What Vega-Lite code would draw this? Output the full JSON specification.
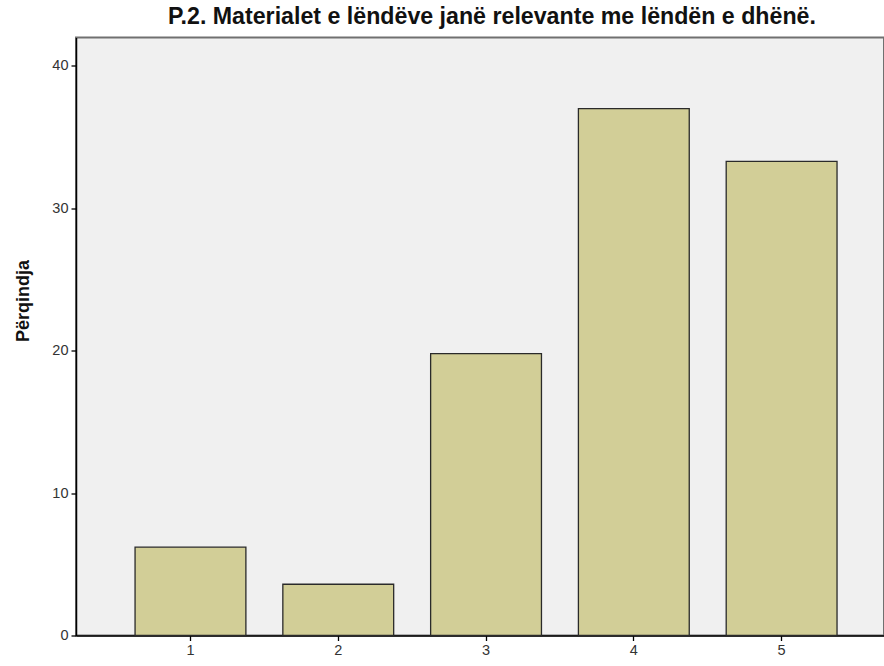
{
  "$schema": "https://vega.github.io/schema/vega-lite/v6.json",
  "width": 808,
  "height": 598,
  "autosize": {"type": "none"},
  "padding": {"left": 76, "top": 37.5, "right": 0, "bottom": 30.5},
  "background": "white",
  "title": {
    "text": "P.2. Materialet e lëndëve janë relevante me lëndën e dhënë.",
    "font": "Liberation Sans",
    "fontSize": 23.2,
    "fontWeight": "bold",
    "color": "#111111",
    "anchor": "middle",
    "dx": 12,
    "offset": 8
  },
  "config": {
    "view": {"fill": "#F0F0F0", "stroke": "#707070", "strokeWidth": 2}
  },
  "data": {
    "values": [
      {"kategoria": "1", "perqindja": 6.2},
      {"kategoria": "2", "perqindja": 3.6},
      {"kategoria": "3", "perqindja": 19.8},
      {"kategoria": "4", "perqindja": 37.0},
      {"kategoria": "5", "perqindja": 33.3}
    ]
  },
  "mark": {"type": "bar", "fill": "#D2CE97", "stroke": "#2a2a2a", "strokeWidth": 1.3},
  "encoding": {
    "x": {
      "field": "kategoria",
      "type": "ordinal",
      "scale": {"paddingInner": 0.25, "paddingOuter": 0.3587, "align": 0.557},
      "axis": {
        "title": null,
        "labelAngle": 0,
        "labelFont": "Liberation Sans",
        "labelFontSize": 14.5,
        "labelColor": "#333333",
        "tickColor": "#000000",
        "tickSize": 5,
        "tickWidth": 1.3,
        "domainColor": "#000000",
        "domainWidth": 1.5,
        "labelPadding": 3
      }
    },
    "y": {
      "field": "perqindja",
      "type": "quantitative",
      "scale": {"domain": [0, 42], "nice": false},
      "axis": {
        "title": "Përqindja",
        "titleFont": "Liberation Sans",
        "titleFontSize": 18,
        "titleFontWeight": "bold",
        "titleColor": "#111111",
        "titleX": -48,
        "titleY": 263,
        "titleAngle": -90,
        "titleAlign": "center",
        "titleBaseline": "alphabetic",
        "values": [0, 10, 20, 30, 40],
        "grid": false,
        "labelFont": "Liberation Sans",
        "labelFontSize": 14.5,
        "labelColor": "#333333",
        "tickColor": "#000000",
        "tickSize": 5,
        "tickWidth": 1.3,
        "domainColor": "#000000",
        "domainWidth": 1.5,
        "labelPadding": 3
      }
    }
  }
}
